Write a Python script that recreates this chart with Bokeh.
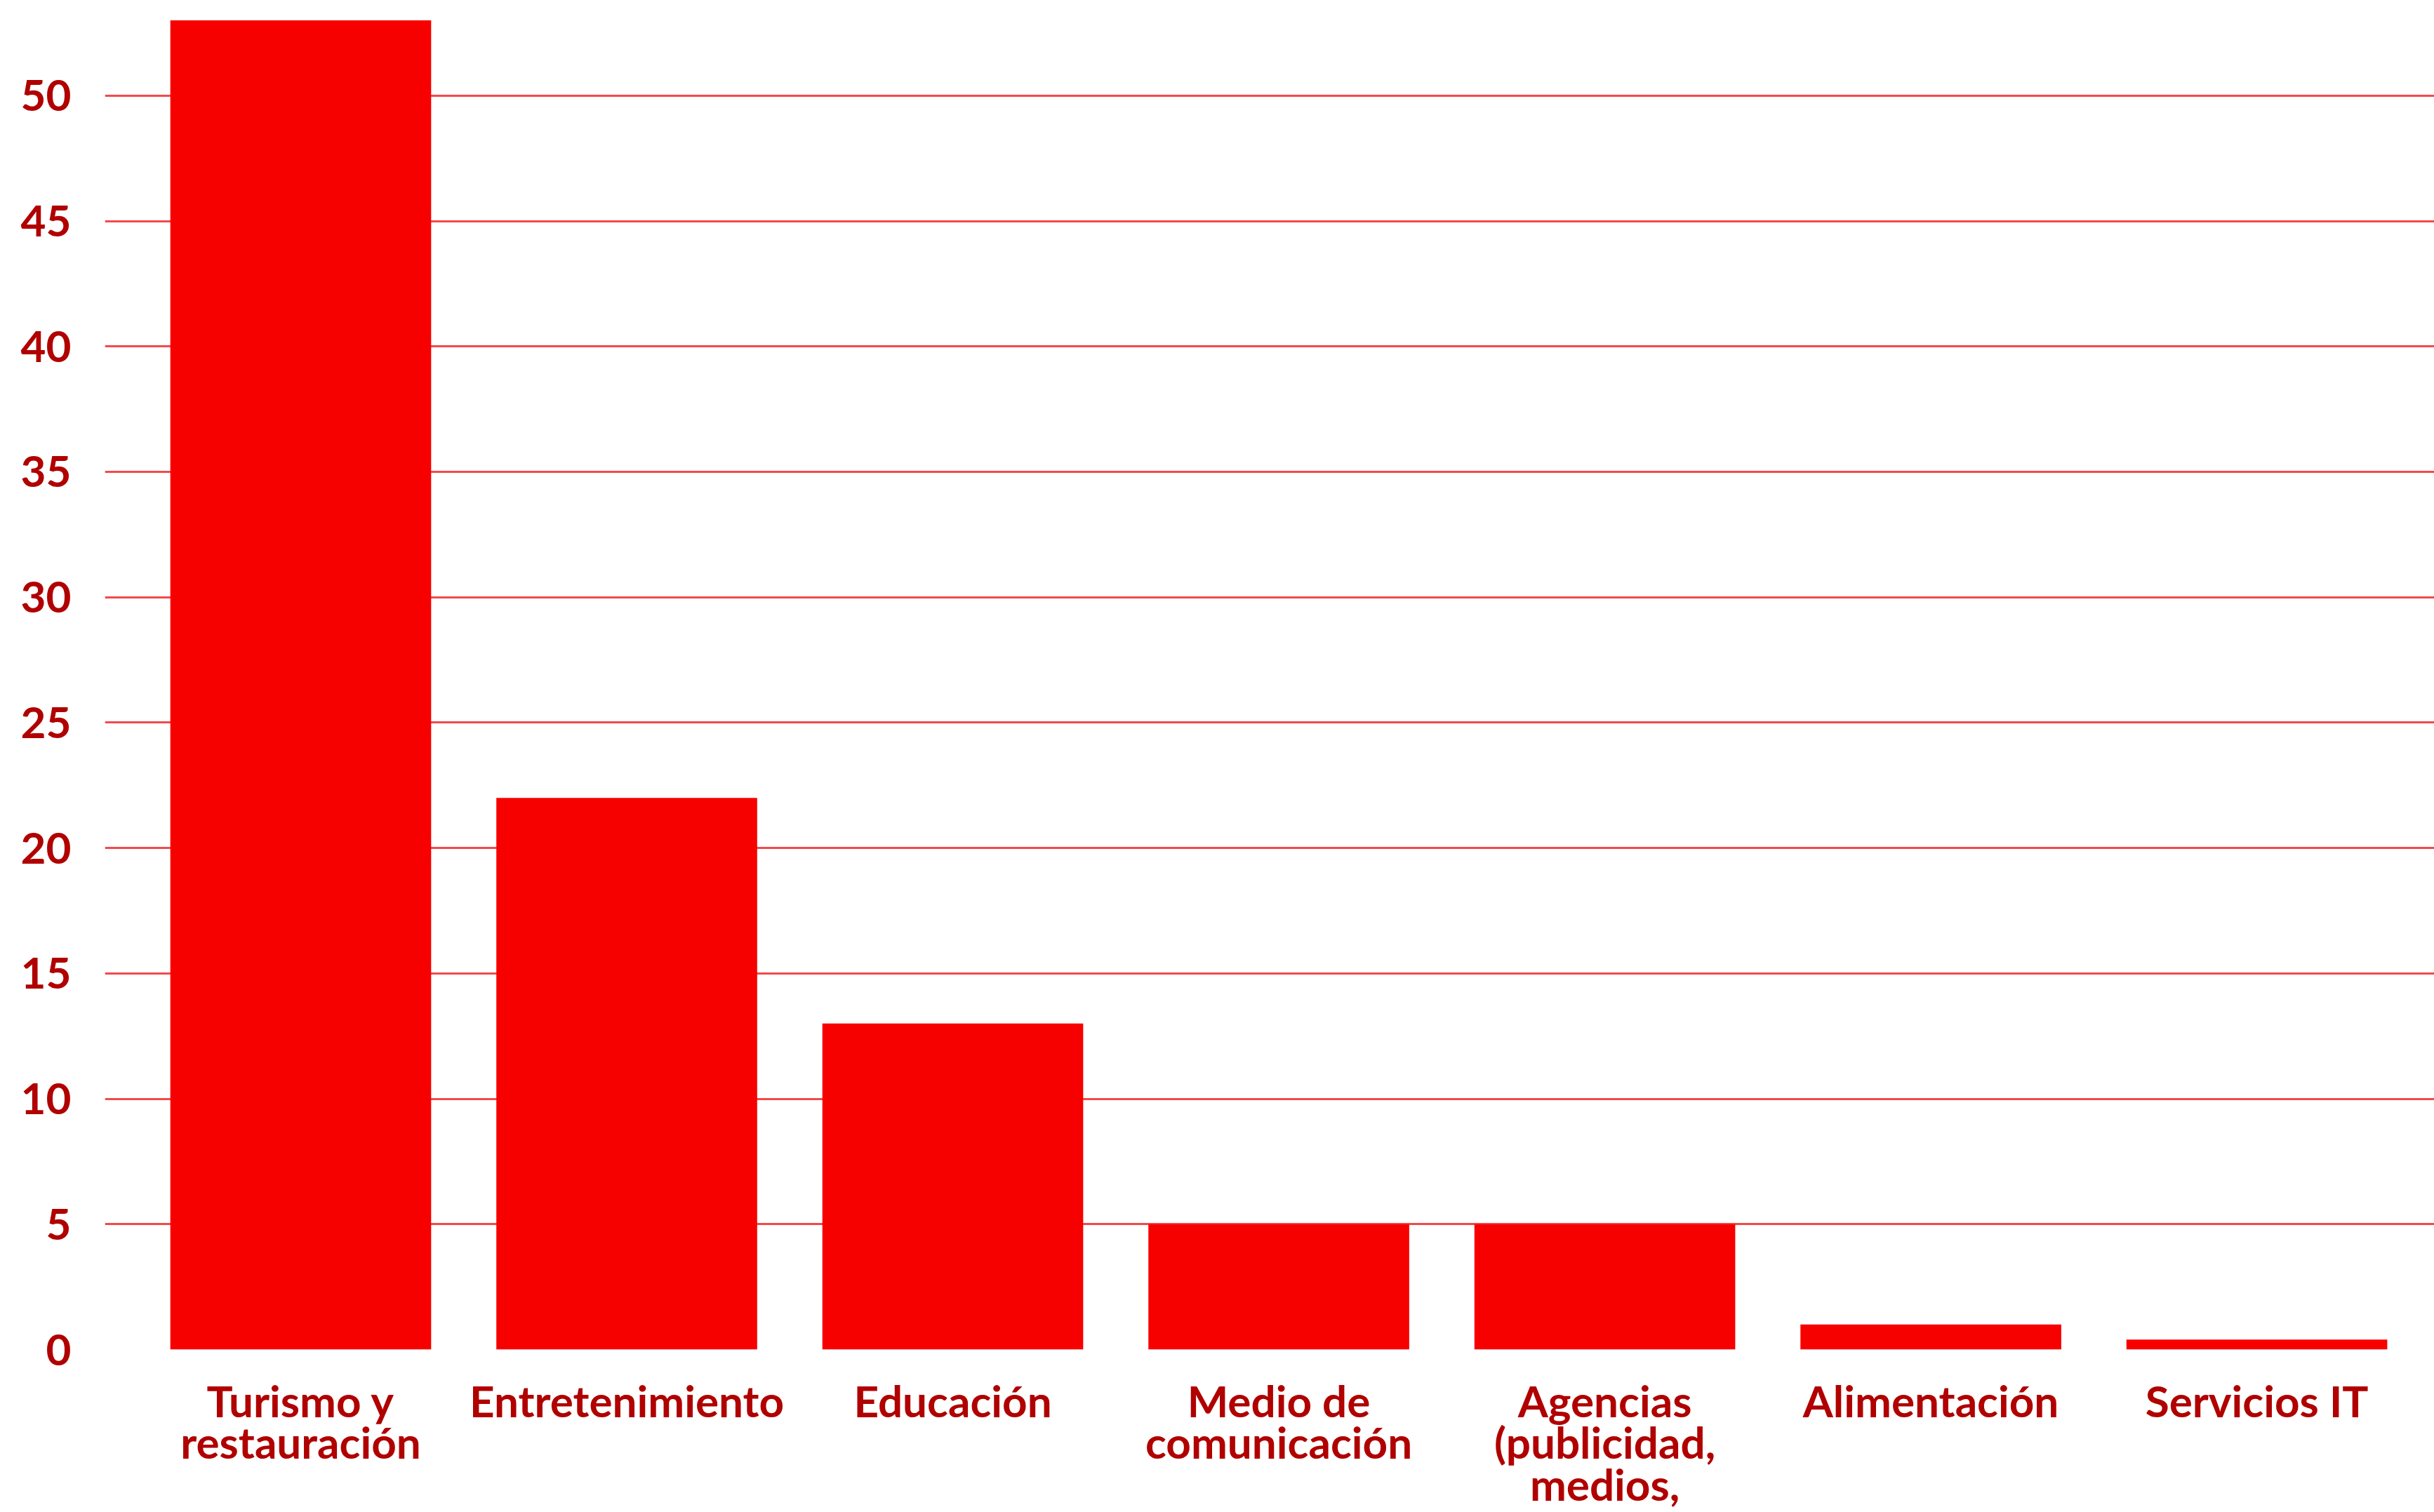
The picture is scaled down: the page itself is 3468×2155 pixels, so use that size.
from bokeh.plotting import figure
from bokeh.models import Range1d, FixedTicker, ColumnDataSource
from bokeh.embed import file_html
from bokeh.resources import INLINE

categories = [
    "Turismo y\nrestauración",
    "Entretenimiento",
    "Educación",
    "Medio de\ncomunicación",
    "Agencias\n(publicidad,\nmedios,",
    "Alimentación",
    "Servicios IT",
]
values = [53, 22, 13, 5, 5, 1, 0.4]
y_ticks = [0, 5, 10, 15, 20, 25, 30, 35, 40, 45, 50]

BAR = "#F70000"
TEXT = "#B00000"
GRID = "#F24A4A"
FONT = "Lato"

positions = list(range(len(categories)))
src = ColumnDataSource(dict(x=positions, top=values))

p = figure(
    width=3468, height=2155,
    output_backend="svg", toolbar_location=None,
    x_range=Range1d(-0.6006, 6.5444),
    y_range=Range1d(0, 53.8),
    min_border_left=149, min_border_right=0, min_border_top=0, min_border_bottom=0,
)
p.outline_line_color = None
p.background_fill_color = "white"
p.border_fill_color = "white"

p.vbar(x="x", top="top", bottom=0, width=0.8, source=src,
       fill_color=BAR, line_color=None)

p.xgrid.grid_line_color = None
p.ygrid.grid_line_color = GRID
p.ygrid.grid_line_width = 3
p.ygrid.ticker = FixedTicker(ticks=y_ticks)

p.yaxis.ticker = FixedTicker(ticks=y_ticks)
p.yaxis.axis_line_color = None
p.yaxis.major_tick_line_color = None
p.yaxis.minor_tick_line_color = None
p.yaxis.major_label_standoff = 42
p.yaxis.major_label_text_font = FONT
p.yaxis.major_label_text_font_style = "bold"
p.yaxis.major_label_text_font_size = "62px"
p.yaxis.major_label_text_baseline = "hanging"
p.yaxis.major_label_text_color = TEXT

p.xaxis.ticker = FixedTicker(ticks=positions)
p.xaxis.major_label_overrides = {i: c for i, c in enumerate(categories)}
p.xaxis.axis_line_color = None
p.xaxis.major_tick_line_color = None
p.xaxis.minor_tick_line_color = None
p.xaxis.major_label_standoff = 29
p.xaxis.major_label_text_font = FONT
p.xaxis.major_label_text_font_style = "bold"
p.xaxis.major_label_text_font_size = "62px"
p.xaxis.major_label_text_line_height = 0.81
p.xaxis.major_label_text_color = TEXT

open("out.html", "w").write(file_html(p, INLINE))
